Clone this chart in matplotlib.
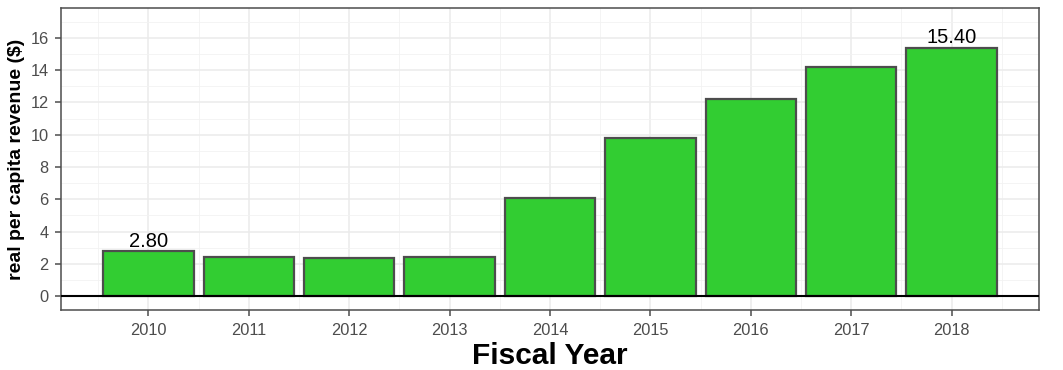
"""Real per capita revenue by fiscal year, ggplot theme_bw look."""
import matplotlib
matplotlib.use("Agg")
import matplotlib.pyplot as plt
from matplotlib.ticker import MultipleLocator

years = [2010, 2011, 2012, 2013, 2014, 2015, 2016, 2017, 2018]
revenue = [2.80, 2.42, 2.35, 2.44, 6.05, 9.77, 12.19, 14.23, 15.40]
labelled = {2010: "2.80", 2018: "15.40"}

plt.rcParams["font.family"] = ["Liberation Sans", "DejaVu Sans"]

fig = plt.figure(figsize=(10.63, 3.70), dpi=100)
ax = fig.add_axes([0.0574, 0.162, 0.92, 0.816])

pos = list(range(len(years)))
ax.bar(pos, revenue, width=0.9, color="#32CD32", edgecolor="#4D4D4D",
       linewidth=1.6, zorder=3)
ax.axhline(0, color="black", linewidth=1.5, zorder=4)

for i, (yr, v) in enumerate(zip(years, revenue)):
    if yr in labelled:
        ax.text(i, v + 0.02, labelled[yr], ha="center", va="bottom",
                fontsize=14.5, color="black", zorder=5)

ax.set_xlim(-0.87, len(years) - 1 + 0.87)
ax.set_ylim(-0.87, 17.85)
ax.set_xticks(pos)
ax.set_xticklabels([str(y) for y in years])
ax.yaxis.set_major_locator(MultipleLocator(2))
ax.yaxis.set_minor_locator(MultipleLocator(1))
ax.set_xticks([p + 0.5 for p in [-1] + pos], minor=True)

ax.grid(True, which="major", color="#EBEBEB", linewidth=1.1, zorder=0)
ax.grid(True, which="minor", color="#F2F2F2", linewidth=0.6, zorder=0)
ax.set_axisbelow(True)

ax.tick_params(axis="both", which="major", colors="#4D4D4D", labelsize=11.8,
               length=4, width=1.1, pad=5)
ax.tick_params(axis="both", which="minor", length=0)
for s in ax.spines.values():
    s.set_color("#4D4D4D")
    s.set_linewidth(1.1)

ax.set_xlabel("Fiscal Year", fontsize=21.5, fontweight="bold", labelpad=3)
ax.set_ylabel("real per capita revenue ($)", fontsize=14, fontweight="bold",
              labelpad=4)

fig.savefig("out.png", dpi=100)
plt.close(fig)
